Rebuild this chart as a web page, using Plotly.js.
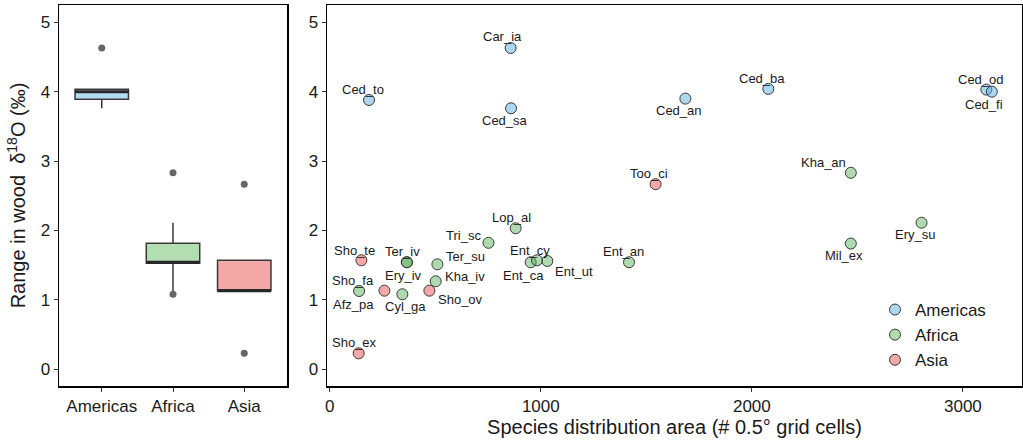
<!DOCTYPE html>
<html><head><meta charset="utf-8">
<script src="https://cdn.plot.ly/plotly-3.0.1.min.js"></script>
<style>html,body{margin:0;padding:0;background:#fff}</style>
</head><body>
<div id="chart" style="width:1023px;height:440px"></div>
<script>
// ---- data ----
const regions = ['Americas', 'Africa', 'Asia'];

const speciesAmericas = ['Car_ia', 'Ced_to', 'Ced_sa', 'Ced_an', 'Ced_ba', 'Ced_od', 'Ced_fi'];
const areaAmericas    = [857, 186, 859, 1685, 2078, 3111, 3137];
const rangeAmericas   = [4.63, 3.88, 3.76, 3.90, 4.04, 4.03, 4.00];

const speciesAfrica = ['Kha_an', 'Ery_su', 'Mil_ex', 'Lop_al', 'Tri_sc', 'Ter_iv', 'Ery_iv', 'Ter_su', 'Kha_iv', 'Afz_pa', 'Cyl_ga', 'Ent_ca', 'Ent_cy', 'Ent_ut', 'Ent_an'];
const areaAfrica    = [2469, 2804, 2469, 881, 752, 365, 366, 510, 502, 139, 344, 952, 982, 1031, 1418];
const rangeAfrica   = [2.83, 2.11, 1.81, 2.03, 1.82, 1.54, 1.54, 1.51, 1.265, 1.125, 1.078, 1.54, 1.568, 1.558, 1.54];

const speciesAsia = ['Too_ci', 'Sho_te', 'Sho_fa', 'Sho_ov', 'Sho_ex'];
const areaAsia    = [1544, 150, 259, 472, 137];
const rangeAsia   = [2.665, 1.568, 1.13, 1.13, 0.226];

const xTickValues = [0, 1000, 2000, 3000];
const yTickValues = [0, 1, 2, 3, 4, 5];

// ---- styling: label offsets in screen pixels [dx, dy(down)] ----
const labelOffset = {
  Car_ia:[-8,-11], Ced_to:[-6,-10], Ced_sa:[-6,12], Ced_an:[-6,12], Ced_ba:[-6,-10],
  Ced_od:[-5,-10], Ced_fi:[-8,13], Kha_an:[-27,-10], Too_ci:[-7,-11],
  Ery_su:[-7,12], Mil_ex:[-7,12], Lop_al:[-4,-11], Tri_sc:[-25,-7], Sho_te:[-7,-10],
  Ter_iv:[-4,-11], Ery_iv:[-3,13], Ter_su:[28,-8], Kha_iv:[29,-5], Sho_fa:[-31,-10],
  Afz_pa:[-6,13], Cyl_ga:[3,12], Sho_ov:[31,9], Sho_ex:[-4,-11], Ent_cy:[-7,-10],
  Ent_ca:[-7,13], Ent_ut:[27,11], Ent_an:[-6,-11]
};
const boxFill = ['#b4dcf0', '#b3deb1', '#f4a7a7'];
const pointFill = ['rgba(90,175,225,0.5)', 'rgba(85,175,85,0.47)', 'rgba(232,80,80,0.5)'];
const FONT = 'Liberation Sans, Arial, Helvetica, sans-serif';

const groups = [
  {name: regions[0], sp: speciesAmericas, x: areaAmericas, y: rangeAmericas},
  {name: regions[1], sp: speciesAfrica, x: areaAfrica, y: rangeAfrica},
  {name: regions[2], sp: speciesAsia, x: areaAsia, y: rangeAsia}
];

function quantile7(arr, p) {
  const s = arr.slice().sort((a, b) => a - b);
  const h = (s.length - 1) * p, lo = Math.floor(h), hi = Math.ceil(h);
  return s[lo] + (s[hi] - s[lo]) * (h - lo);
}

const traces = [];
const shapes = [];
const annotations = [];
groups.forEach((g, i) => {
  traces.push({
    type: 'box', x: g.y.map(() => g.name), y: g.y, xaxis: 'x', yaxis: 'y',
    name: g.name, showlegend: false, quartilemethod: 'inclusive',
    boxpoints: 'outliers', jitter: 0, pointpos: 0, width: 0.75, whiskerwidth: 0,
    fillcolor: boxFill[i], line: {color: '#3a3a3a', width: 1.5},
    marker: {color: '#666666', size: 7, line: {width: 0}},
    hoverinfo: 'skip'
  });
  const med = quantile7(g.y, 0.5);
  shapes.push({type: 'line', xref: 'x', yref: 'y', x0: i - 0.375, x1: i + 0.375, y0: med, y1: med,
    line: {color: '#262626', width: 3}});
});
groups.forEach((g, i) => {
  traces.push({
    type: 'scatter', mode: 'markers', x: g.x, y: g.y, text: g.sp,
    xaxis: 'x2', yaxis: 'y2', name: g.name, cliponaxis: false,
    marker: {size: 11, color: pointFill[i], line: {color: '#3a3a3a', width: 1}}
  });
  g.sp.forEach((s, k) => {
    const off = labelOffset[s] || [0, -11];
    annotations.push({
      xref: 'x2', yref: 'y2', x: g.x[k], y: g.y[k], text: s, showarrow: false,
      xanchor: 'center', yanchor: 'middle', xshift: off[0], yshift: -off[1],
      font: {family: FONT, size: 13, color: '#1a1a1a'}, borderpad: 0
    });
  });
});

const axisCommon = {
  showline: true, mirror: true, linecolor: '#000', linewidth: 1.5,
  ticks: 'outside', ticklen: 4, tickcolor: '#333', tickwidth: 1,
  tickfont: {family: FONT, size: 17, color: '#1a1a1a'},
  showgrid: false, zeroline: false, automargin: false
};
const yDomain = [1 - 386 / 440, 1 - 5 / 440];

const layout = {
  width: 1023, height: 440, margin: {l: 0, r: 0, t: 0, b: 0},
  paper_bgcolor: '#fff', plot_bgcolor: '#fff',
  font: {family: FONT, color: '#1a1a1a'},
  showlegend: true,
  xaxis: Object.assign({}, axisCommon, {domain: [59 / 1023, 287 / 1023], type: 'category',
    categoryorder: 'array', categoryarray: regions, range: [-0.6, 2.6], anchor: 'y'}),
  yaxis: Object.assign({}, axisCommon, {domain: yDomain, range: [-0.245, 5.25], tickvals: yTickValues,
    anchor: 'x', title: {text: 'Range in wood  δ<sup>18</sup>O (‰)', font: {family: FONT, size: 20}, standoff: 9}}),
  xaxis2: Object.assign({}, axisCommon, {domain: [327 / 1023, 1022 / 1023], range: [-13, 3280],
    tickvals: xTickValues, anchor: 'y2',
    title: {text: 'Species distribution area (# 0.5° grid cells)', font: {family: FONT, size: 20}, standoff: 1}}),
  yaxis2: Object.assign({}, axisCommon, {domain: yDomain, range: [-0.245, 5.25], tickvals: yTickValues, anchor: 'x2'}),
  legend: {x: 875 / 1023, y: 1 - 292 / 440, xanchor: 'left', yanchor: 'top',
    font: {family: FONT, size: 17, color: '#1a1a1a'}, bgcolor: 'rgba(0,0,0,0)'},
  shapes: shapes,
  annotations: annotations
};

Plotly.newPlot('chart', traces, layout, {displayModeBar: false, staticPlot: true});
</script>
</body></html>
